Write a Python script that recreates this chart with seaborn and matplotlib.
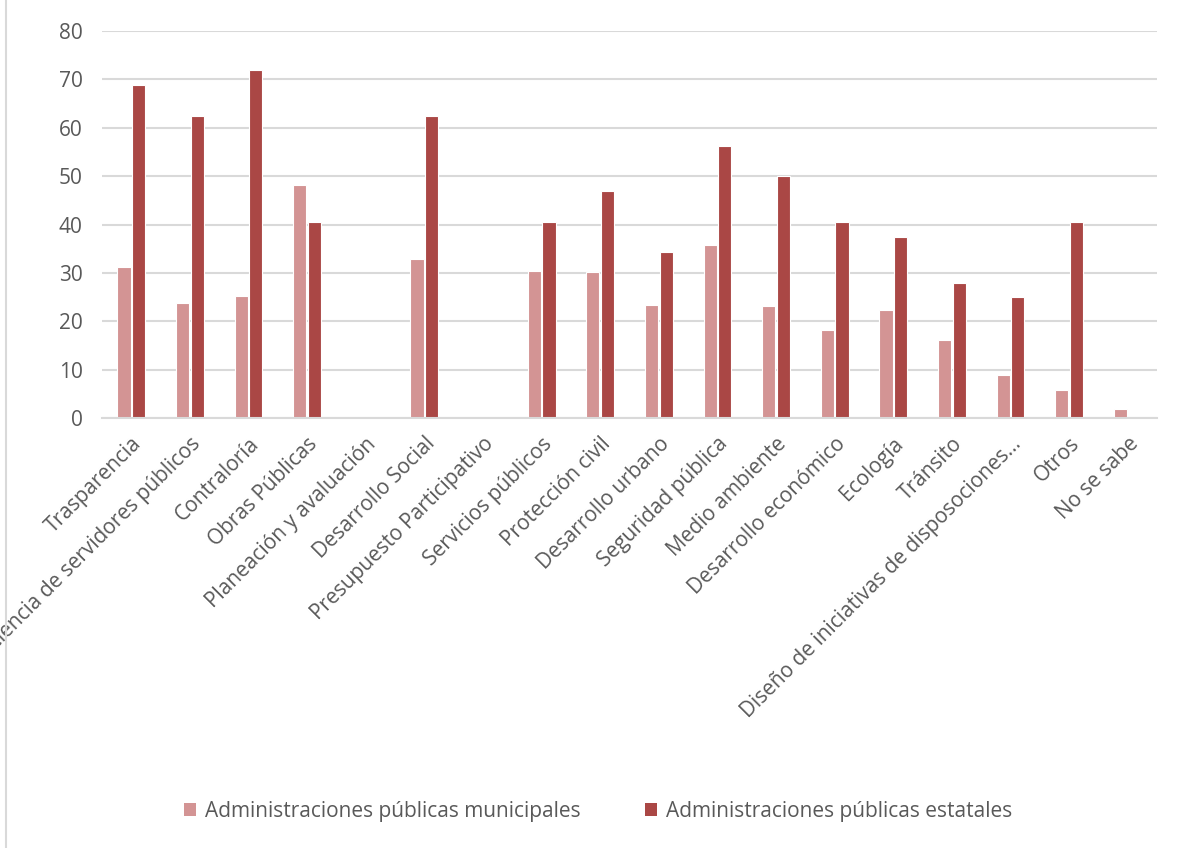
import pandas as pd
import matplotlib.pyplot as plt
import seaborn as sns
from matplotlib.lines import Line2D
from matplotlib.patches import Patch


# Data

categories = [
    "Trasparencia", "Eficiencia de servidores públicos", "Contraloría",
    "Obras Públicas", "Planeación y avaluación", "Desarrollo Social",
    "Presupuesto Participativo", "Servicios públicos", "Protección civil",
    "Desarrollo urbano", "Seguridad pública", "Medio ambiente",
    "Desarrollo económico", "Ecología", "Tránsito",
    "Diseño de iniciativas de disposociones…", "Otros", "No se sabe",
]
municipales = [31.2, 23.8, 25.2, 48.2, 0, 32.9, 0, 30.4, 30.1,
               23.3, 35.7, 23.2, 18.1, 22.3, 16.1, 8.8, 5.8, 1.9]
estatales = [68.8, 62.4, 71.9, 40.5, 0, 62.4, 0, 40.5, 46.9,
             34.4, 56.2, 50.0, 40.6, 37.4, 28.0, 25.0, 40.6, 0]
series = ["Administraciones públicas municipales",
          "Administraciones públicas estatales"]
colors = ["#D39494", "#AA4745"]

df = pd.DataFrame({
    "categoria": categories * 2,
    "valor": municipales + estatales,
    "serie": [series[0]] * len(categories) + [series[1]] * len(categories),
})


# Plot

sns.set_theme(style="white")
plt.rcParams["font.family"] = ["Open Sans", "DejaVu Sans"]
text_color = "#595959"
grid_color = "#D9D9D9"

fig = plt.figure(figsize=(11.77, 8.48), dpi=100)
ax = fig.add_axes([0.0867, 0.507, 0.8963, 0.4564])

sns.barplot(data=df, x="categoria", y="valor", hue="serie", order=categories,
            hue_order=series, palette=colors, saturation=1, width=0.5, gap=0.1,
            edgecolor="white", linewidth=0.8, legend=False, ax=ax)

ax.set_ylim(0, 80)
ax.set_xlim(-0.5, len(categories) - 0.5)
ax.set_yticks(range(0, 81, 10))
ax.yaxis.grid(True, color=grid_color, linewidth=1.5)
ax.set_axisbelow(True)
for s in ["left", "right", "top"]:
    ax.spines[s].set_visible(False)
ax.spines["bottom"].set_color(grid_color)
ax.spines["bottom"].set_linewidth(1.5)
ax.set_xlabel("")
ax.set_ylabel("")
ax.tick_params(axis="both", length=0, labelcolor=text_color, labelsize=15)
ax.tick_params(axis="y", pad=14)
ax.tick_params(axis="x", pad=11)
ax.set_xticks(range(len(categories)))
ax.set_xticklabels(categories, rotation=45, ha="right", rotation_mode="anchor")

handles = [Patch(facecolor=c, edgecolor="none") for c in colors]
fig.legend(handles, series, loc="center", bbox_to_anchor=(0.508, 0.043),
           ncol=2, frameon=False, fontsize=15, labelcolor=text_color,
           handlelength=0.6, handleheight=0.6, columnspacing=3.1,
           handletextpad=0.4)

# chart area border on the left edge
fig.add_artist(Line2D([6 / 1177, 6 / 1177], [0, 1], color=grid_color,
                      linewidth=1.5, transform=fig.transFigure))

fig.savefig("out.png", dpi=100)
